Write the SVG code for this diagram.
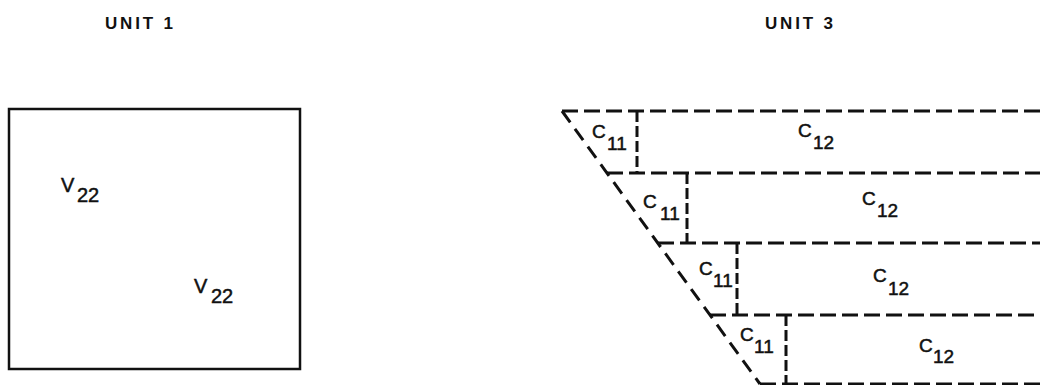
<svg xmlns="http://www.w3.org/2000/svg" width="1040" height="385" viewBox="0 0 1040 385">
<style>
.t{font-family:"Liberation Sans",Arial,sans-serif;fill:#111;stroke:#111;stroke-width:0.5}
.title{font-size:17px;letter-spacing:2.8px;font-weight:bold;stroke-width:0}
.lbl{font-size:19px}
.v{font-size:20px}
.h{stroke:#111;stroke-width:3;fill:none;stroke-dasharray:16 6}
.d{stroke:#111;stroke-width:3;fill:none;stroke-dasharray:14 8}
.vd{stroke:#111;stroke-width:3;fill:none;stroke-dasharray:11 4}
</style>
<rect width="1040" height="385" fill="#fff"/>
<g id="unit1">
<text class="t title" x="105" y="29">UNIT 1</text>
<rect x="9" y="109" width="291" height="260" fill="none" stroke="#111" stroke-width="2.5"/>
<text class="t v" x="61" y="192">V<tspan x="77" y="202">22</tspan></text>
<text class="t v" x="194" y="293">V<tspan x="211" y="303">22</tspan></text>
</g>
<g id="unit3">
<text class="t title" x="765" y="29">UNIT 3</text>
<g id="connectors">
<line class="h" x1="562" y1="111" x2="1040" y2="111"/>
<line class="h" x1="607" y1="173" x2="1040" y2="173"/>
<line class="h" x1="658" y1="243" x2="1040" y2="243"/>
<line class="h" x1="710" y1="315" x2="1040" y2="315"/>
<line class="h" x1="760" y1="384" x2="1040" y2="384"/>
<line class="d" x1="562" y1="111" x2="760" y2="384"/>
<line class="vd" x1="637" y1="111" x2="637" y2="173"/>
<line class="vd" x1="687" y1="173" x2="687" y2="243"/>
<line class="vd" x1="737" y1="243" x2="737" y2="315"/>
<line class="vd" x1="786" y1="315" x2="786" y2="384"/>
</g>
<g id="row1">
<text class="t lbl" x="592" y="138">C<tspan x="607" y="150">11</tspan></text>
<text class="t lbl" x="798" y="137">C<tspan x="813" y="149">12</tspan></text>
</g>
<g id="row2">
<text class="t lbl" x="643" y="208">C<tspan x="660" y="220">11</tspan></text>
<text class="t lbl" x="862" y="205">C<tspan x="877" y="217">12</tspan></text>
</g>
<g id="row3">
<text class="t lbl" x="699" y="275">C<tspan x="713" y="287">11</tspan></text>
<text class="t lbl" x="873" y="282">C<tspan x="888" y="295">12</tspan></text>
</g>
<g id="row4">
<text class="t lbl" x="740" y="341">C<tspan x="754" y="353">11</tspan></text>
<text class="t lbl" x="919" y="352">C<tspan x="933" y="363">12</tspan></text>
</g>
</g>
</svg>
